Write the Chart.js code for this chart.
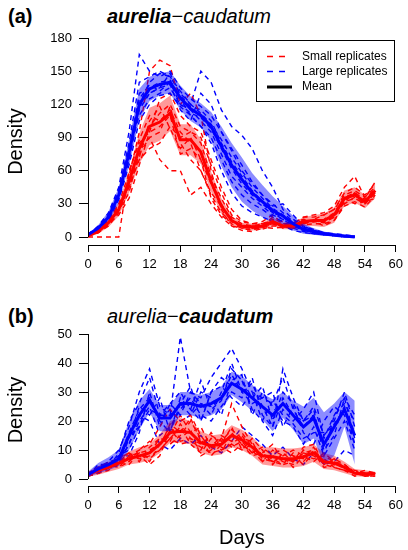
<!DOCTYPE html>
<html><head><meta charset="utf-8">
<script src="https://cdn.jsdelivr.net/npm/chart.js@4"></script>
<style>
html,body{margin:0;padding:0;background:#fff;}
body{width:408px;height:550px;position:relative;overflow:hidden;font-family:"Liberation Sans",Arial,sans-serif;}
canvas{position:absolute;left:0;}
.lbl{position:absolute;font-size:20px;line-height:24px;white-space:nowrap;color:#000;}
</style></head><body>
<div class="lbl" style="left:8px;top:4px;font-weight:bold">(a)</div>
<div class="lbl" style="left:107px;top:4px"><b><i>aurelia</i></b>−<i>caudatum</i></div>
<div class="lbl" style="left:8px;top:304px;font-weight:bold">(b)</div>
<div class="lbl" style="left:107px;top:304px"><i>aurelia</i>−<b><i>caudatum</i></b></div>
<canvas id="ca" width="408" height="280" style="top:0"></canvas>
<canvas id="cb" width="408" height="270" style="top:280px"></canvas>
<script>
// ---------- data ----------
const xTicks = [0, 6, 12, 18, 24, 30, 36, 42, 48, 54, 60];
const yTicksA = [0, 30, 60, 90, 120, 150, 180];
const yTicksB = [0, 10, 20, 30, 40, 50];
const daysSmall = [0,2,4,6,8,10,12,14,16,18,20,22,24,26,28,30,32,34,36,38,40,42,44,46,48,50,52,54,56];
const daysLarge = [0,2,4,6,8,10,12,14,16,18,20,22,24,26,28,30,32,34,36,38,40,42,44,46,48,50,52];
const legendLabels = ['Small replicates', 'Large replicates', 'Mean'];

// Panel (a): aurelia-caudatum, aurelia density
const smallMeanA  = [1,5,13,25,50,80,100,104,112,88,88,77,50,28,15,10,9,10,14,10,10,14,15,15,20,35,38,32,42];
const smallUpperA = [2,7,17,31,60,94,117,121,128,102,102,88,59,35,19,13,12,13,18,13,13,18,20,21,27,42,45,38,49];
const smallLowerA = [0,3,9,19,40,66,83,87,96,74,74,66,41,21,11,7,6,7,10,7,7,10,10,9,13,28,31,26,35];
const largeMeanA  = [2,8,18,38,76,120,134,138,140,126,116,110,100,82,65,52,40,32,24,19,12,7,5,3,2,1,0];
const largeUpperA = [3,11,23,45,88,134,145,148,150,137,127,121,113,100,85,72,58,47,37,28,19,12,8,5,3,2,1];
const largeLowerA = [1,5,13,31,64,106,123,128,130,115,105,99,87,64,45,32,24,18,13,10,6,3,2,1,1,0,0];
const smallRepsA = [
  [1,4,10,22,55,95,150,160,155,120,130,110,60,25,10,6,5,8,12,9,8,12,16,20,25,40,45,38,48],
  [0,0,0,0,60,85,95,100,110,75,80,70,35,20,12,8,6,10,18,12,10,15,14,10,15,30,36,30,40],
  [2,6,15,30,45,70,80,85,100,90,95,85,55,35,18,12,10,12,15,8,12,18,20,22,28,45,55,35,50],
  [1,5,14,28,50,75,90,95,118,85,70,60,38,22,14,9,8,7,10,10,9,11,12,12,15,28,32,27,38],
  [1,6,16,24,40,78,100,112,120,100,95,90,65,40,20,14,12,14,20,12,13,16,14,15,20,35,30,32,35],
  [1,4,12,26,48,80,90,70,60,60,38,45,30,18,10,8,10,9,8,9,8,12,14,13,18,32,40,30,42],
  [1,5,12,20,35,65,95,125,130,110,100,95,70,45,25,15,12,12,16,14,12,18,18,20,25,38,42,36,45],
  [2,5,14,30,58,88,110,105,115,95,85,60,40,28,16,10,8,10,12,10,9,14,15,14,18,32,35,30,40],
  [1,4,11,24,45,72,105,118,98,80,90,70,48,30,14,9,8,8,14,9,10,13,14,16,22,36,40,34,44]
];
const largeRepsA = [
  [2,10,22,45,95,165,150,145,150,135,125,118,110,95,80,65,50,38,30,22,14,9,6,4,3,2,1],
  [2,7,15,35,70,120,140,148,145,130,120,150,140,115,100,92,80,60,45,25,16,10,7,4,2,1,0],
  [1,8,20,40,80,110,125,130,135,120,115,105,95,75,55,45,35,28,20,16,10,6,4,3,2,1,0],
  [2,9,18,38,75,130,135,140,142,125,110,100,90,70,50,38,30,25,18,14,8,5,3,2,1,0,0],
  [3,8,16,36,70,115,130,135,138,115,105,130,120,95,78,60,48,38,28,30,20,10,6,4,2,1,1],
  [2,6,17,34,65,105,120,128,130,118,110,100,85,60,40,28,22,18,14,10,6,4,3,2,1,0,0],
  [2,9,20,42,85,140,145,150,145,132,120,112,102,88,72,58,45,35,26,20,13,8,5,3,2,1,0],
  [1,7,16,35,72,118,130,135,148,128,118,115,105,85,68,55,42,32,22,18,12,7,4,3,2,1,0],
  [2,8,18,38,78,125,138,132,140,120,112,108,98,80,62,48,38,30,22,16,10,6,5,3,2,1,1]
];

// Panel (b): aurelia-caudatum, caudatum density
const smallMeanB  = [1.5,3,4,5.5,7,8,9,12,16,16.5,16,12.5,11.5,12,15,13.5,11,8,7.7,7,7,7.7,9,6,5.5,4,2,1.8,1.8];
const smallUpperB = [2.5,4.5,6,7.5,9.5,11,12,15.5,20,21,20,16.5,15,15.5,18.5,17,14.5,11,11,10.5,10.5,11,12,9,8,6,3.5,3,2.5];
const smallLowerB = [0.8,1.5,2.5,3.5,5,5.5,6.5,9,12.5,12.5,12,9,8,8.5,11,10,8,5,4.5,4,4,4.5,6,3.5,3,2,1,0.8,1];
const largeMeanB  = [1.5,3.5,5,7,15,22,27,21,21,26,26,25,26,28,33,31,28,25,22,26,22,18,21,12,18,24,15];
const largeUpperB = [2.5,5.5,7.5,10,20,27,31,25.5,25.5,30,30,29,30,32,37,35.5,32.5,29.5,27.5,30,27,25,28,23,26,30,27];
const largeLowerB = [0.8,2,3,4.5,10,17,23,16.5,16.5,22,22,21,22,24,29,26.5,23.5,20.5,16.5,21,17,12,14,5,8,18,5];
const smallRepsB = [
  [1,2,4,6,8,10,12,18,24,20,22,15,10,14,26,18,12,8,6,5,9,6,10,5,4,3,2,1,1],
  [2,3,5,4,6,9,7,10,14,18,12,9,14,10,12,15,10,6,10,8,4,8,7,8,6,5,2,2,2],
  [1,4,3,7,9,6,11,14,12,15,20,14,8,12,18,10,14,10,5,9,6,11,12,5,7,3,1,2,2],
  [2,3,6,5,7,8,5,8,17,13,14,10,16,11,9,12,8,9,12,6,8,5,9,4,5,4,3,1,1],
  [1,2,3,6,5,9,10,12,15,22,16,18,11,15,13,16,11,7,6,8,10,8,6,9,6,4,2,2,2],
  [2,4,4,5,8,7,8,10,14,12,13,11,9,10,12,10,12,8,7,5,6,9,10,6,5,5,2,3,2],
  [1,3,5,7,6,10,13,11,19,16,21,13,12,9,16,12,9,11,8,6,5,10,8,7,4,3,2,1,2],
  [2,2,4,6,9,7,9,14,13,19,14,12,15,13,17,14,13,6,9,10,8,7,11,5,7,5,2,2,1],
  [1,3,5,4,8,9,6,12,18,14,17,8,10,14,11,13,9,9,6,7,6,9,8,6,6,4,3,2,2]
];
const largeRepsB = [
  [1,4,6,10,18,30,38,25,22,49,30,28,35,40,45,38,30,28,26,35,24,18,22,10,15,28,14],
  [2,3,4,6,12,20,25,15,18,24,28,22,20,25,30,28,35,22,18,38,28,20,25,15,20,30,18],
  [1,5,5,8,10,18,28,20,24,20,22,30,28,22,34,36,22,30,25,20,18,12,18,8,14,20,10],
  [2,3,6,5,14,25,22,28,16,28,24,20,30,32,28,25,30,20,15,24,20,24,30,14,22,28,22],
  [1,2,4,8,8,16,30,18,26,22,30,26,22,30,40,30,26,28,30,18,25,16,12,20,25,22,12],
  [2,4,5,6,12,22,20,12,10,14,12,15,11,9,13,18,15,12,8,11,7,5,9,5,6,10,8],
  [1,5,4,9,20,26,35,22,26,30,24,34,24,27,38,34,28,32,20,30,26,20,24,8,22,26,20],
  [2,3,6,7,16,24,28,20,16,26,32,20,30,35,32,34,24,20,27,22,19,14,16,16,18,25,12],
  [1,4,5,6,15,18,24,22,22,26,22,26,25,28,36,30,33,25,18,28,22,20,22,12,19,24,16]
];

// ---------- styles ----------
const RED = '#ff0000', BLUE = '#0000ff';
const RED_BAND = 'rgba(255,0,0,0.4)', BLUE_BAND = 'rgba(0,0,255,0.45)';
Chart.defaults.font.family = '"Liberation Sans", Arial, sans-serif';
Chart.defaults.color = '#000';

function pts(days, vals) { return vals.map((v, i) => ({x: days[i], y: v})); }
function repDs(days, vals, color) {
  return {data: pts(days, vals), borderColor: color, borderWidth: 1.4, borderDash: [5, 4],
          pointRadius: 0, fill: false, order: 3};
}
function bandDs(days, up, lo, color) {
  return [
    {data: pts(days, up), borderColor: 'rgba(0,0,0,0)', borderWidth: 0, backgroundColor: color, fill: '+1', pointRadius: 0, order: 2},
    {data: pts(days, lo), borderColor: 'rgba(0,0,0,0)', borderWidth: 0, fill: false, pointRadius: 0, order: 2}
  ];
}
function meanDs(days, vals, color) {
  return {data: pts(days, vals), borderColor: color, borderWidth: 3, pointRadius: 0, fill: false, order: 1};
}
function buildDatasets(sReps, lReps, sUp, sLo, lUp, lLo, sMean, lMean) {
  const ds = [];
  const n = Math.max(sReps.length, lReps.length);
  for (let i = 0; i < n; i++) {
    if (lReps[i]) ds.push(repDs(daysLarge, lReps[i], BLUE));
    if (sReps[i]) ds.push(repDs(daysSmall, sReps[i], RED));
  }
  ds.push(...bandDs(daysLarge, lUp, lLo, BLUE_BAND));
  ds.push(...bandDs(daysSmall, sUp, sLo, RED_BAND));
  ds.push(meanDs(daysLarge, lMean, BLUE));
  ds.push(meanDs(daysSmall, sMean, RED));
  return ds;
}

const axisLines = {
  id: 'axisLines',
  afterDraw(chart) {
    const {ctx, chartArea, scales: {x, y}} = chart;
    ctx.save();
    ctx.strokeStyle = '#000';
    ctx.lineWidth = 1;
    ctx.beginPath();
    const yx = Math.round(chartArea.left) + 0.5;
    ctx.moveTo(yx, y.getPixelForValue(y.ticks[0].value));
    ctx.lineTo(yx, y.getPixelForValue(y.ticks[y.ticks.length - 1].value));
    const xy = Math.round(chartArea.bottom) + 0.5;
    ctx.moveTo(x.getPixelForValue(x.ticks[0].value), xy);
    ctx.lineTo(x.getPixelForValue(x.ticks[x.ticks.length - 1].value), xy);
    ctx.stroke();
    ctx.restore();
  }
};

const boxLegend = {
  id: 'boxLegend',
  afterDraw(chart, args, opts) {
    if (!opts.show) return;
    const ctx = chart.ctx;
    ctx.save();
    ctx.strokeStyle = '#000';
    ctx.lineWidth = 1;
    ctx.strokeRect(256.5, 40.5, 138, 61);
    const rows = [
      {y: 56.5, color: RED, dash: [6, 6], w: 1.4, len: 18},
      {y: 71.5, color: BLUE, dash: [6, 6], w: 1.4, len: 18},
      {y: 87, color: '#000', dash: [], w: 3, len: 25}
    ];
    rows.forEach((r, i) => {
      ctx.beginPath();
      ctx.setLineDash(r.dash);
      ctx.strokeStyle = r.color;
      ctx.lineWidth = r.w;
      ctx.moveTo(267, r.y);
      ctx.lineTo(267 + r.len, r.y);
      ctx.stroke();
      ctx.setLineDash([]);
      ctx.fillStyle = '#000';
      ctx.font = '12px "Liberation Sans", Arial, sans-serif';
      ctx.textBaseline = 'middle';
      ctx.textAlign = 'left';
      ctx.fillText(legendLabels[i], 302, r.y);
    });
    ctx.restore();
  }
};

function makeScales(yMin, yMax, yTicks, xHeight, showDays) {
  return {
    x: {
      type: 'linear', min: 0, max: 60,
      afterBuildTicks: s => { s.ticks = xTicks.map(v => ({value: v})); },
      afterFit: s => { s.height = xHeight; },
      grid: {display: true, drawOnChartArea: false, drawTicks: true, tickLength: 7, color: '#000', lineWidth: 1},
      border: {display: false},
      ticks: {font: {size: 13}, color: '#000', padding: 5, maxRotation: 0, autoSkip: false},
      title: {display: showDays, text: 'Days', font: {size: 20}, color: '#000', padding: {top: 0, bottom: 0}}
    },
    y: {
      type: 'linear', min: yMin, max: yMax,
      afterBuildTicks: s => { s.ticks = yTicks.map(v => ({value: v})); },
      afterFit: s => { s.width = 88; },
      grid: {display: true, drawOnChartArea: false, drawTicks: true, tickLength: 9, color: '#000', lineWidth: 1},
      border: {display: false},
      ticks: {font: {size: 13}, color: '#000', padding: 7, autoSkip: false},
      title: {display: true, text: 'Density', font: {size: 20}, color: '#000', padding: {top: 4, bottom: 0}}
    }
  };
}

function makeChart(id, datasets, scales, topPad, legend) {
  return new Chart(document.getElementById(id), {
    type: 'line',
    data: {datasets},
    options: {
      responsive: false, animation: false, devicePixelRatio: 1,
      layout: {padding: {top: topPad, right: 10, left: 0, bottom: 0}},
      elements: {line: {tension: 0}},
      scales,
      plugins: {legend: {display: false}, tooltip: {enabled: false}, boxLegend: {show: legend}}
    },
    plugins: [axisLines, boxLegend]
  });
}

makeChart('ca',
  buildDatasets(smallRepsA, largeRepsA, smallUpperA, smallLowerA, largeUpperA, largeLowerA, smallMeanA, largeMeanA),
  makeScales(-7.2, 180, yTicksA, 35, false), 38, true);
makeChart('cb',
  buildDatasets(smallRepsB, largeRepsB, smallUpperB, smallLowerB, largeUpperB, largeLowerB, smallMeanB, largeMeanB),
  makeScales(-2.4, 50, yTicksB, 64, true), 54, false);
</script>
</body></html>
